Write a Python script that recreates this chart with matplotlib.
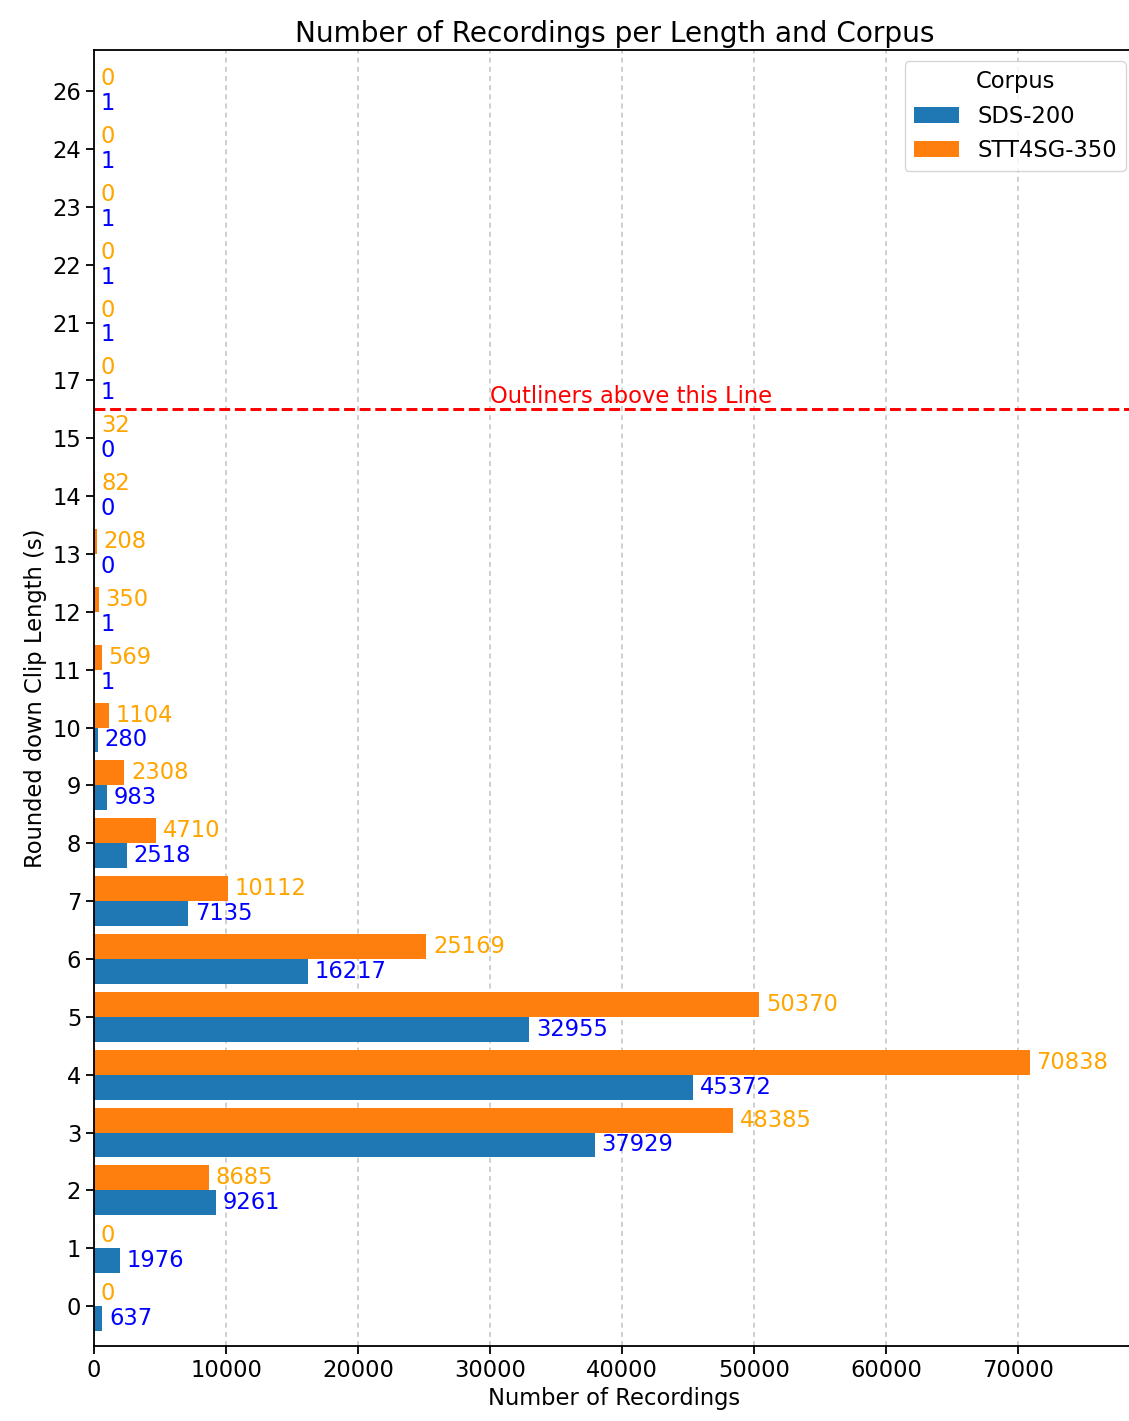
import matplotlib
matplotlib.use("Agg")
import matplotlib.pyplot as plt
import numpy as np


LENGTHS = ["0", "1", "2", "3", "4", "5", "6", "7", "8", "9", "10", "11", "12", "13",
           "14", "15", "17", "21", "22", "23", "24", "26"]
SDS_200 = [637, 1976, 9261, 37929, 45372, 32955, 16217, 7135, 2518, 983, 280, 1, 1, 0,
           0, 0, 1, 1, 1, 1, 1, 1]
STT4SG_350 = [0, 0, 8685, 48385, 70838, 50370, 25169, 10112, 4710, 2308, 1104, 569, 350, 208,
              82, 32, 0, 0, 0, 0, 0, 0]
OUTLIER_POS = 15.5  # between "15" and "17"

S = 1.63  # scale of the original rendering
plt.rcParams.update({
    "font.size": 10 * S,
    "axes.linewidth": 0.8 * S,
    "xtick.major.size": 3.5 * S,
    "ytick.major.size": 3.5 * S,
    "xtick.major.width": 0.8 * S,
    "ytick.major.width": 0.8 * S,
})

W, H = 1129, 1421
fig = plt.figure(figsize=(W / 100, H / 100), dpi=100)
px = 0.013207  # pixels per recording
ax = fig.add_axes([94 / W, (H - 1346) / H, 1041 / W, (1346 - 50) / H])

y = np.arange(len(LENGTHS))
h = 0.43
ax.barh(y - h / 2, SDS_200, height=h, color="#1f77b4", label="SDS-200")
ax.barh(y + h / 2, STT4SG_350, height=h, color="#ff7f0e", label="STT4SG-350")

for yy, v in zip(y, SDS_200):
    ax.text(v + 500, yy - h / 2, str(v), color="blue", va="center", ha="left")
for yy, v in zip(y, STT4SG_350):
    ax.text(v + 500, yy + h / 2, str(v), color="orange", va="center", ha="left")

ax.axhline(OUTLIER_POS, color="red", linestyle="--", linewidth=1.3 * S)
ax.text(30000, OUTLIER_POS + 0.02, "Outliners above this Line", color="red",
        ha="left", va="bottom")

ax.set_yticks(y)
ax.set_yticklabels(LENGTHS)
ax.set_ylim(-0.69, len(LENGTHS) - 1 + 0.71)
ax.set_xlim(0, 1041 / px)
ax.set_xticks(np.arange(0, 80000, 10000))
ax.grid(axis="x", linestyle=(0, (3, 2.5)), color="#b0b0b0", alpha=0.7, linewidth=1.2)
ax.set_axisbelow(True)

ax.set_xlabel("Number of Recordings")
ax.set_ylabel("Rounded down Clip Length (s)")
ax.set_title("Number of Recordings per Length and Corpus", fontsize=12.4 * S)
ax.legend(title="Corpus", loc="upper right",
          bbox_to_anchor=((1137 - 94) / 1041, 1.0))

fig.savefig("out.png", dpi=100)
